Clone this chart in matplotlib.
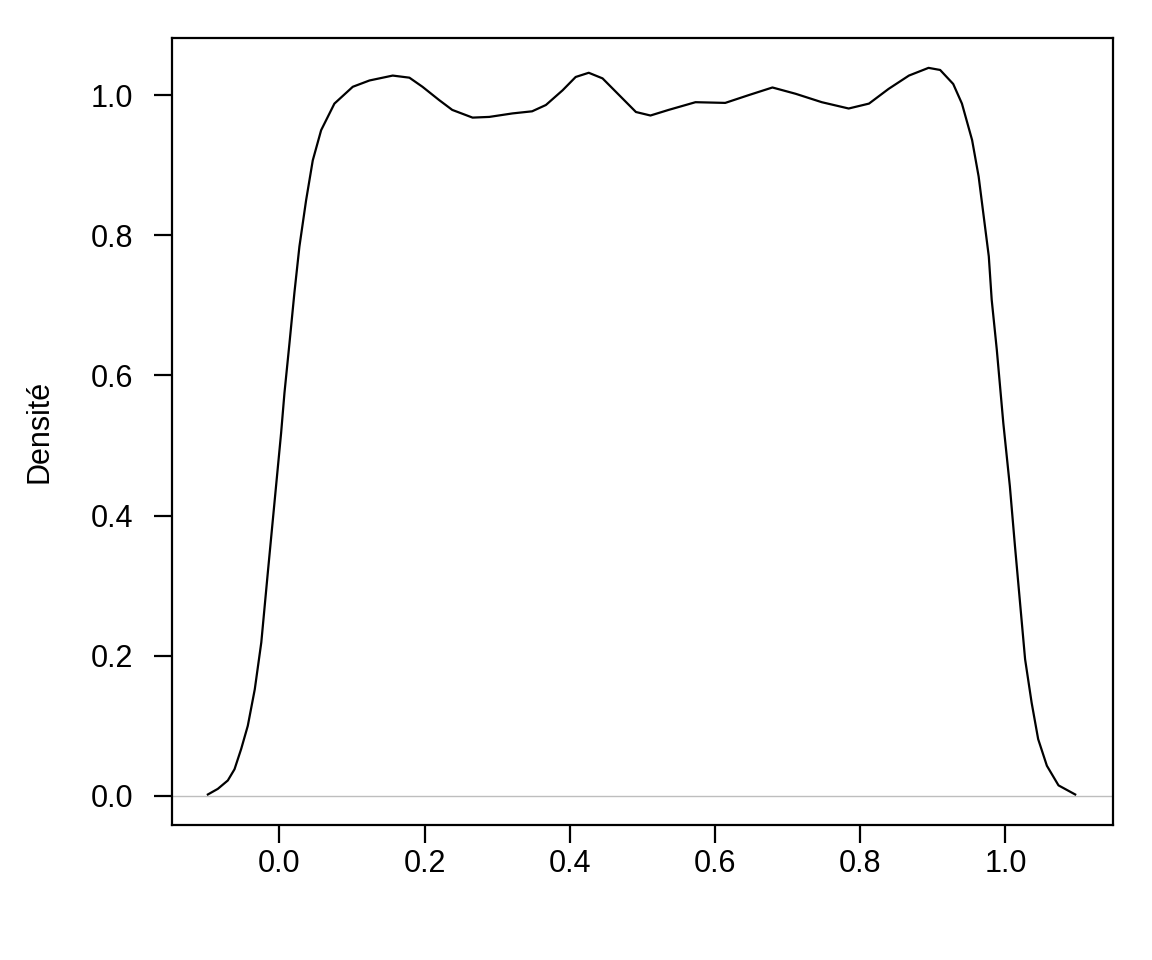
import matplotlib
matplotlib.use('Agg')
import matplotlib.pyplot as plt

plt.rcParams['font.family'] = ['Liberation Sans', 'DejaVu Sans']

# density curve
dens_x = [-0.0986, -0.0849, -0.0711, -0.0619, -0.0527, -0.0436, -0.034, -0.025,
          -0.016, -0.0069, 0.0023, 0.0069, 0.0138, 0.0206, 0.0275, 0.0367, 0.0459,
          0.0574, 0.0757, 0.101, 0.124, 0.156, 0.179, 0.197, 0.220, 0.238, 0.266,
          0.289, 0.321, 0.348, 0.367, 0.390, 0.408, 0.426, 0.445, 0.468, 0.491,
          0.511, 0.536, 0.573, 0.614, 0.646, 0.679, 0.711, 0.747, 0.784, 0.812,
          0.839, 0.867, 0.894, 0.910, 0.928, 0.940, 0.954, 0.963, 0.970, 0.977,
          0.981, 0.988, 0.997, 1.006, 1.013, 1.020, 1.027, 1.036, 1.045, 1.057,
          1.073, 1.096]
dens_y = [0.002, 0.010, 0.022, 0.038, 0.067, 0.100, 0.152, 0.219,
          0.319, 0.418, 0.518, 0.575, 0.646, 0.718, 0.784, 0.850, 0.907,
          0.950, 0.988, 1.012, 1.021, 1.028, 1.025, 1.012, 0.993, 0.979, 0.968,
          0.969, 0.974, 0.977, 0.986, 1.007, 1.026, 1.032, 1.024, 1.000, 0.976,
          0.971, 0.979, 0.990, 0.989, 1.000, 1.011, 1.002, 0.990, 0.981, 0.988,
          1.009, 1.028, 1.039, 1.036, 1.016, 0.988, 0.936, 0.884, 0.827, 0.770,
          0.708, 0.637, 0.532, 0.442, 0.357, 0.276, 0.195, 0.133, 0.081, 0.043,
          0.015, 0.002]

ticks = [0.0, 0.2, 0.4, 0.6, 0.8, 1.0]
tick_labels = ['0.0', '0.2', '0.4', '0.6', '0.8', '1.0']

fig = plt.figure(figsize=(11.52, 9.6), dpi=100)
ax = fig.add_axes([0.1493, 0.1406, 0.8168, 0.8198])

ax.axhline(0, color='#BEBEBE', lw=1.0, zorder=1)
ax.plot(dens_x, dens_y, color='black', lw=1.6, zorder=2, solid_joinstyle='round')

ax.set_xlim(-0.148, 1.148)
ax.set_ylim(-0.0416, 1.0816)
ax.set_xticks(ticks)
ax.set_xticklabels(tick_labels)
ax.set_yticks(ticks)
ax.set_yticklabels(tick_labels)
ax.tick_params(axis='both', length=13, width=1.6, labelsize=22, color='black')
ax.tick_params(axis='x', pad=4)
ax.tick_params(axis='y', pad=15)
fig.text(40 / 1152, 1 - 431.5 / 960, 'Densité', fontsize=22, rotation=90,
         ha='center', va='center')

for s in ax.spines.values():
    s.set_linewidth(1.6)

fig.savefig('out.png', dpi=100)
